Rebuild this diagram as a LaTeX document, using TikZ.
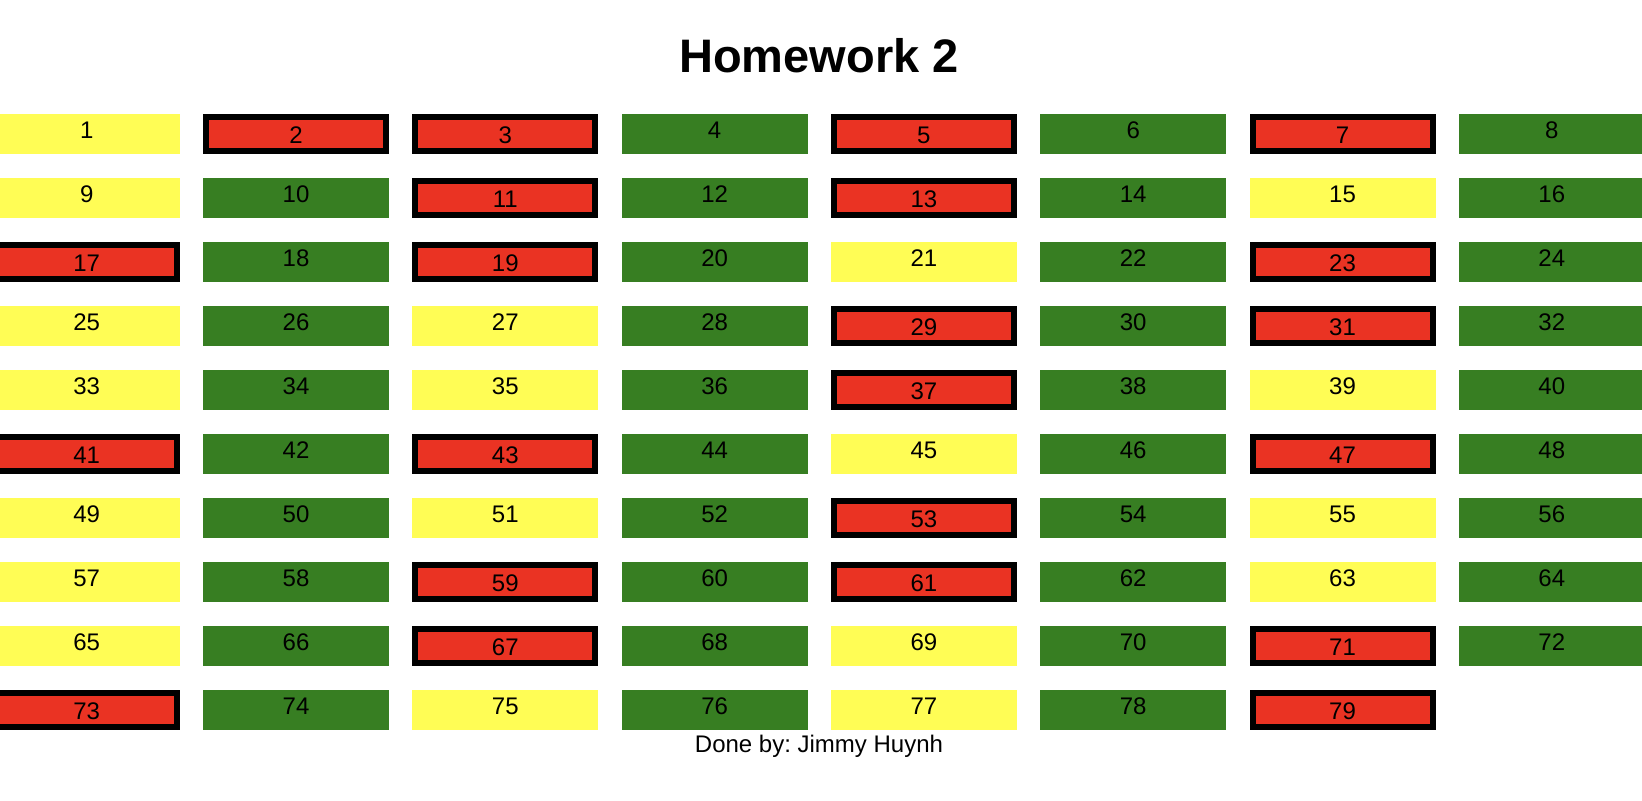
\documentclass[tikz,border=0pt]{standalone}
\usepackage{fontspec}
\setmainfont{Liberation Sans}
\frenchspacing
\usetikzlibrary{positioning,%
                calc%
              }
\definecolor{hwyellow}{HTML}{FFFD55}
\definecolor{hwgreen}{HTML}{377E22}
\definecolor{hwred}{HTML}{EA3323}
\def\hwcells{1/odd, 2/prime, 3/prime, 4/even, 5/prime, 6/even, 7/prime, 8/even,%
  9/odd, 10/even, 11/prime, 12/even, 13/prime, 14/even, 15/odd, 16/even,%
  17/prime, 18/even, 19/prime, 20/even, 21/odd, 22/even, 23/prime, 24/even,%
  25/odd, 26/even, 27/odd, 28/even, 29/prime, 30/even, 31/prime, 32/even,%
  33/odd, 34/even, 35/odd, 36/even, 37/prime, 38/even, 39/odd, 40/even,%
  41/prime, 42/even, 43/prime, 44/even, 45/odd, 46/even, 47/prime, 48/even,%
  49/odd, 50/even, 51/odd, 52/even, 53/prime, 54/even, 55/odd, 56/even,%
  57/odd, 58/even, 59/prime, 60/even, 61/prime, 62/even, 63/odd, 64/even,%
  65/odd, 66/even, 67/prime, 68/even, 69/odd, 70/even, 71/prime, 72/even,%
  73/prime, 74/even, 75/odd, 76/even, 77/odd, 78/even, 79/prime%
}
\begin{document}
\begin{tikzpicture}[x=0.5pt,y=-0.5pt,%
    every node/.style={font=\fontsize{12pt}{14pt}\selectfont},%
    hw cell/.style={rectangle, inner sep=0pt, minimum width=93pt,%
      minimum height=20pt, text height=12pt, text depth=8pt},%
    odd cell/.style={hw cell, fill=hwyellow},%
    even cell/.style={hw cell, fill=hwgreen},%
    prime cell/.style={hw cell, fill=hwred, draw=black, line width=3pt,%
      minimum width=90pt, minimum height=17pt, text height=13pt, text depth=4pt}]

  \useasboundingbox (0,0) rectangle (1642,800);
  \clip (0,0) rectangle (1642,800);

  \node[font=\fontsize{23.5pt}{28pt}\selectfont\bfseries, anchor=base]%
    (title) at (819,72.5) {Homework 2};

  % cells, eight in a row
  \foreach \n/\kind in \hwcells {%
    \pgfmathtruncatemacro{\col}{mod(\n-1,8)}%
    \pgfmathtruncatemacro{\row}{(\n-1)/8}%
    \node[\kind\space cell] (c\n) at (86.7+209.3*\col, 134+64*\row) {\n};
  }

  \node[anchor=base] (credit) at (819,752.5) {Done by: Jimmy Huynh};

\end{tikzpicture}
\end{document}
